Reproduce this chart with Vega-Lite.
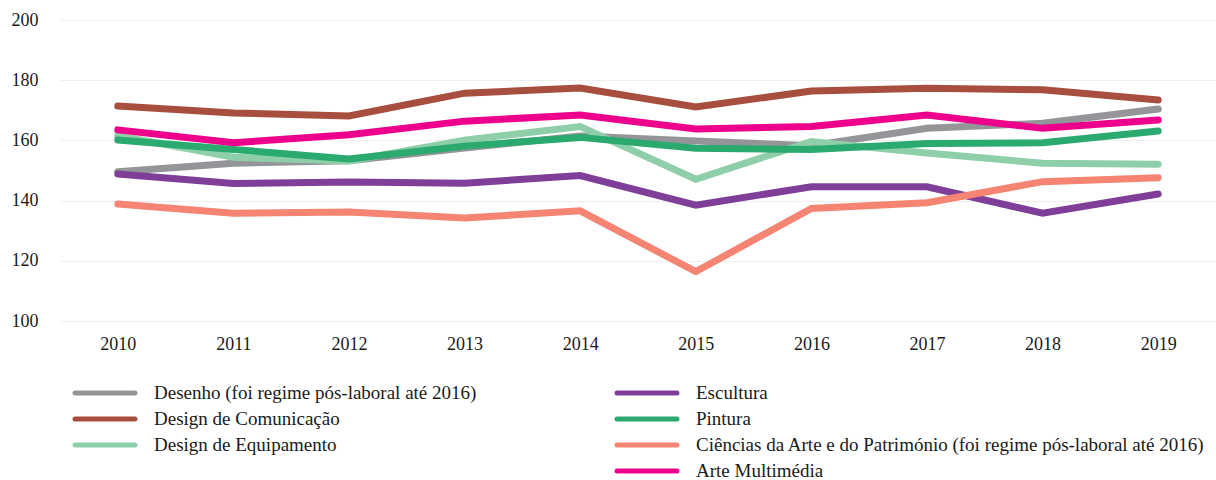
{
  "$schema": "https://vega.github.io/schema/vega-lite/v6.json",
  "autosize": "none",
  "padding": {"left": 60, "top": 20, "right": 0, "bottom": 159},
  "width": 1156,
  "height": 301,
  "background": "white",
  "config": {
    "view": {"stroke": null},
    "font": "Liberation Serif",
    "axis": {"labelFont": "Liberation Serif, Times New Roman, serif", "labelFontSize": 18, "labelColor": "#1a1a1a"},
    "legend": {"labelFont": "Liberation Serif, Times New Roman, serif", "labelFontSize": 19, "labelColor": "#1a1a1a", "labelLimit": 700}
  },
  "data": {"values": [
    {"year": "2010", "s": "Desenho (foi regime pós-laboral até 2016)", "v": 149.6},
    {"year": "2011", "s": "Desenho (foi regime pós-laboral até 2016)", "v": 152.4},
    {"year": "2012", "s": "Desenho (foi regime pós-laboral até 2016)", "v": 153.2},
    {"year": "2013", "s": "Desenho (foi regime pós-laboral até 2016)", "v": 157.5},
    {"year": "2014", "s": "Desenho (foi regime pós-laboral até 2016)", "v": 161.5},
    {"year": "2015", "s": "Desenho (foi regime pós-laboral até 2016)", "v": 159.8},
    {"year": "2016", "s": "Desenho (foi regime pós-laboral até 2016)", "v": 158.2},
    {"year": "2017", "s": "Desenho (foi regime pós-laboral até 2016)", "v": 164.0},
    {"year": "2018", "s": "Desenho (foi regime pós-laboral até 2016)", "v": 165.7},
    {"year": "2019", "s": "Desenho (foi regime pós-laboral até 2016)", "v": 170.4},
    {"year": "2010", "s": "Design de Comunicação", "v": 171.4},
    {"year": "2011", "s": "Design de Comunicação", "v": 169.1},
    {"year": "2012", "s": "Design de Comunicação", "v": 168.1},
    {"year": "2013", "s": "Design de Comunicação", "v": 175.7},
    {"year": "2014", "s": "Design de Comunicação", "v": 177.4},
    {"year": "2015", "s": "Design de Comunicação", "v": 171.1},
    {"year": "2016", "s": "Design de Comunicação", "v": 176.4},
    {"year": "2017", "s": "Design de Comunicação", "v": 177.3},
    {"year": "2018", "s": "Design de Comunicação", "v": 176.8},
    {"year": "2019", "s": "Design de Comunicação", "v": 173.4},
    {"year": "2010", "s": "Design de Equipamento", "v": 161.6},
    {"year": "2011", "s": "Design de Equipamento", "v": 154.4},
    {"year": "2012", "s": "Design de Equipamento", "v": 153.2},
    {"year": "2013", "s": "Design de Equipamento", "v": 160.1},
    {"year": "2014", "s": "Design de Equipamento", "v": 164.6},
    {"year": "2015", "s": "Design de Equipamento", "v": 147.1},
    {"year": "2016", "s": "Design de Equipamento", "v": 159.6},
    {"year": "2017", "s": "Design de Equipamento", "v": 155.8},
    {"year": "2018", "s": "Design de Equipamento", "v": 152.4},
    {"year": "2019", "s": "Design de Equipamento", "v": 152.1},
    {"year": "2010", "s": "Escultura", "v": 148.8},
    {"year": "2011", "s": "Escultura", "v": 145.7},
    {"year": "2012", "s": "Escultura", "v": 146.2},
    {"year": "2013", "s": "Escultura", "v": 145.8},
    {"year": "2014", "s": "Escultura", "v": 148.3},
    {"year": "2015", "s": "Escultura", "v": 138.5},
    {"year": "2016", "s": "Escultura", "v": 144.6},
    {"year": "2017", "s": "Escultura", "v": 144.6},
    {"year": "2018", "s": "Escultura", "v": 135.8},
    {"year": "2019", "s": "Escultura", "v": 142.2},
    {"year": "2010", "s": "Pintura", "v": 160.1},
    {"year": "2011", "s": "Pintura", "v": 157.0},
    {"year": "2012", "s": "Pintura", "v": 153.8},
    {"year": "2013", "s": "Pintura", "v": 158.1},
    {"year": "2014", "s": "Pintura", "v": 161.0},
    {"year": "2015", "s": "Pintura", "v": 157.4},
    {"year": "2016", "s": "Pintura", "v": 157.0},
    {"year": "2017", "s": "Pintura", "v": 159.0},
    {"year": "2018", "s": "Pintura", "v": 159.2},
    {"year": "2019", "s": "Pintura", "v": 163.1},
    {"year": "2010", "s": "Ciências da Arte e do Património  (foi regime pós-laboral até 2016)", "v": 138.9},
    {"year": "2011", "s": "Ciências da Arte e do Património  (foi regime pós-laboral até 2016)", "v": 135.8},
    {"year": "2012", "s": "Ciências da Arte e do Património  (foi regime pós-laboral até 2016)", "v": 136.2},
    {"year": "2013", "s": "Ciências da Arte e do Património  (foi regime pós-laboral até 2016)", "v": 134.2},
    {"year": "2014", "s": "Ciências da Arte e do Património  (foi regime pós-laboral até 2016)", "v": 136.6},
    {"year": "2015", "s": "Ciências da Arte e do Património  (foi regime pós-laboral até 2016)", "v": 116.4},
    {"year": "2016", "s": "Ciências da Arte e do Património  (foi regime pós-laboral até 2016)", "v": 137.4},
    {"year": "2017", "s": "Ciências da Arte e do Património  (foi regime pós-laboral até 2016)", "v": 139.3},
    {"year": "2018", "s": "Ciências da Arte e do Património  (foi regime pós-laboral até 2016)", "v": 146.3},
    {"year": "2019", "s": "Ciências da Arte e do Património  (foi regime pós-laboral até 2016)", "v": 147.6},
    {"year": "2010", "s": "Arte Multimédia", "v": 163.5},
    {"year": "2011", "s": "Arte Multimédia", "v": 159.2},
    {"year": "2012", "s": "Arte Multimédia", "v": 161.9},
    {"year": "2013", "s": "Arte Multimédia", "v": 166.4},
    {"year": "2014", "s": "Arte Multimédia", "v": 168.4},
    {"year": "2015", "s": "Arte Multimédia", "v": 163.8},
    {"year": "2016", "s": "Arte Multimédia", "v": 164.6},
    {"year": "2017", "s": "Arte Multimédia", "v": 168.4},
    {"year": "2018", "s": "Arte Multimédia", "v": 164.0},
    {"year": "2019", "s": "Arte Multimédia", "v": 166.8}
  ]},
  "encoding": {
    "x": {"field": "year", "type": "ordinal", "scale": {"type": "point", "padding": 0.5},
      "axis": {"title": null, "labelAngle": 0, "domain": false, "ticks": false, "grid": false, "labelPadding": 14}},
    "y": {"field": "v", "type": "quantitative", "scale": {"domain": [100, 200], "nice": false, "zero": false},
      "axis": {"title": null, "values": [100, 120, 140, 160, 180, 200], "domain": false, "ticks": false, "gridColor": "#efefef", "gridWidth": 1, "labelPadding": 22}}
  },
  "layer": [
    {
      "transform": [{"filter": {"field": "s", "oneOf": ["Desenho (foi regime pós-laboral até 2016)", "Design de Comunicação", "Design de Equipamento"]}}],
      "mark": {"type": "line", "strokeWidth": 7, "strokeCap": "round", "strokeJoin": "miter"},
      "encoding": {
        "color": {"field": "s", "type": "nominal",
          "scale": {"domain": ["Desenho (foi regime pós-laboral até 2016)", "Design de Comunicação", "Design de Equipamento"], "range": ["#939598", "#a84e3e", "#8ecfaa"]},
          "legend": {"title": null, "orient": "none", "legendX": 29, "legendY": 357, "symbolType": "M-2.26,0L2.26,0", "symbolSize": 702, "symbolStrokeWidth": 5, "labelOffset": 33, "rowPadding": 0,
            "encode": {"symbols": {"update": {"strokeCap": {"value": "round"}}}}}}
      }
    },
    {
      "transform": [{"filter": {"field": "s", "oneOf": ["Escultura", "Pintura", "Ciências da Arte e do Património  (foi regime pós-laboral até 2016)", "Arte Multimédia"]}}],
      "mark": {"type": "line", "strokeWidth": 7, "strokeCap": "round", "strokeJoin": "miter"},
      "encoding": {
        "stroke": {"field": "s", "type": "nominal",
          "scale": {"domain": ["Escultura", "Pintura", "Ciências da Arte e do Património  (foi regime pós-laboral até 2016)", "Arte Multimédia"], "range": ["#7f3f98", "#2aaa6f", "#f58473", "#ec008c"]},
          "legend": {"title": null, "orient": "none", "legendX": 571, "legendY": 357, "symbolType": "M-2.26,0L2.26,0", "symbolSize": 702, "symbolStrokeWidth": 5, "labelOffset": 33, "rowPadding": 0,
            "encode": {"symbols": {"update": {"strokeCap": {"value": "round"}}}}}}
      }
    }
  ]
}
